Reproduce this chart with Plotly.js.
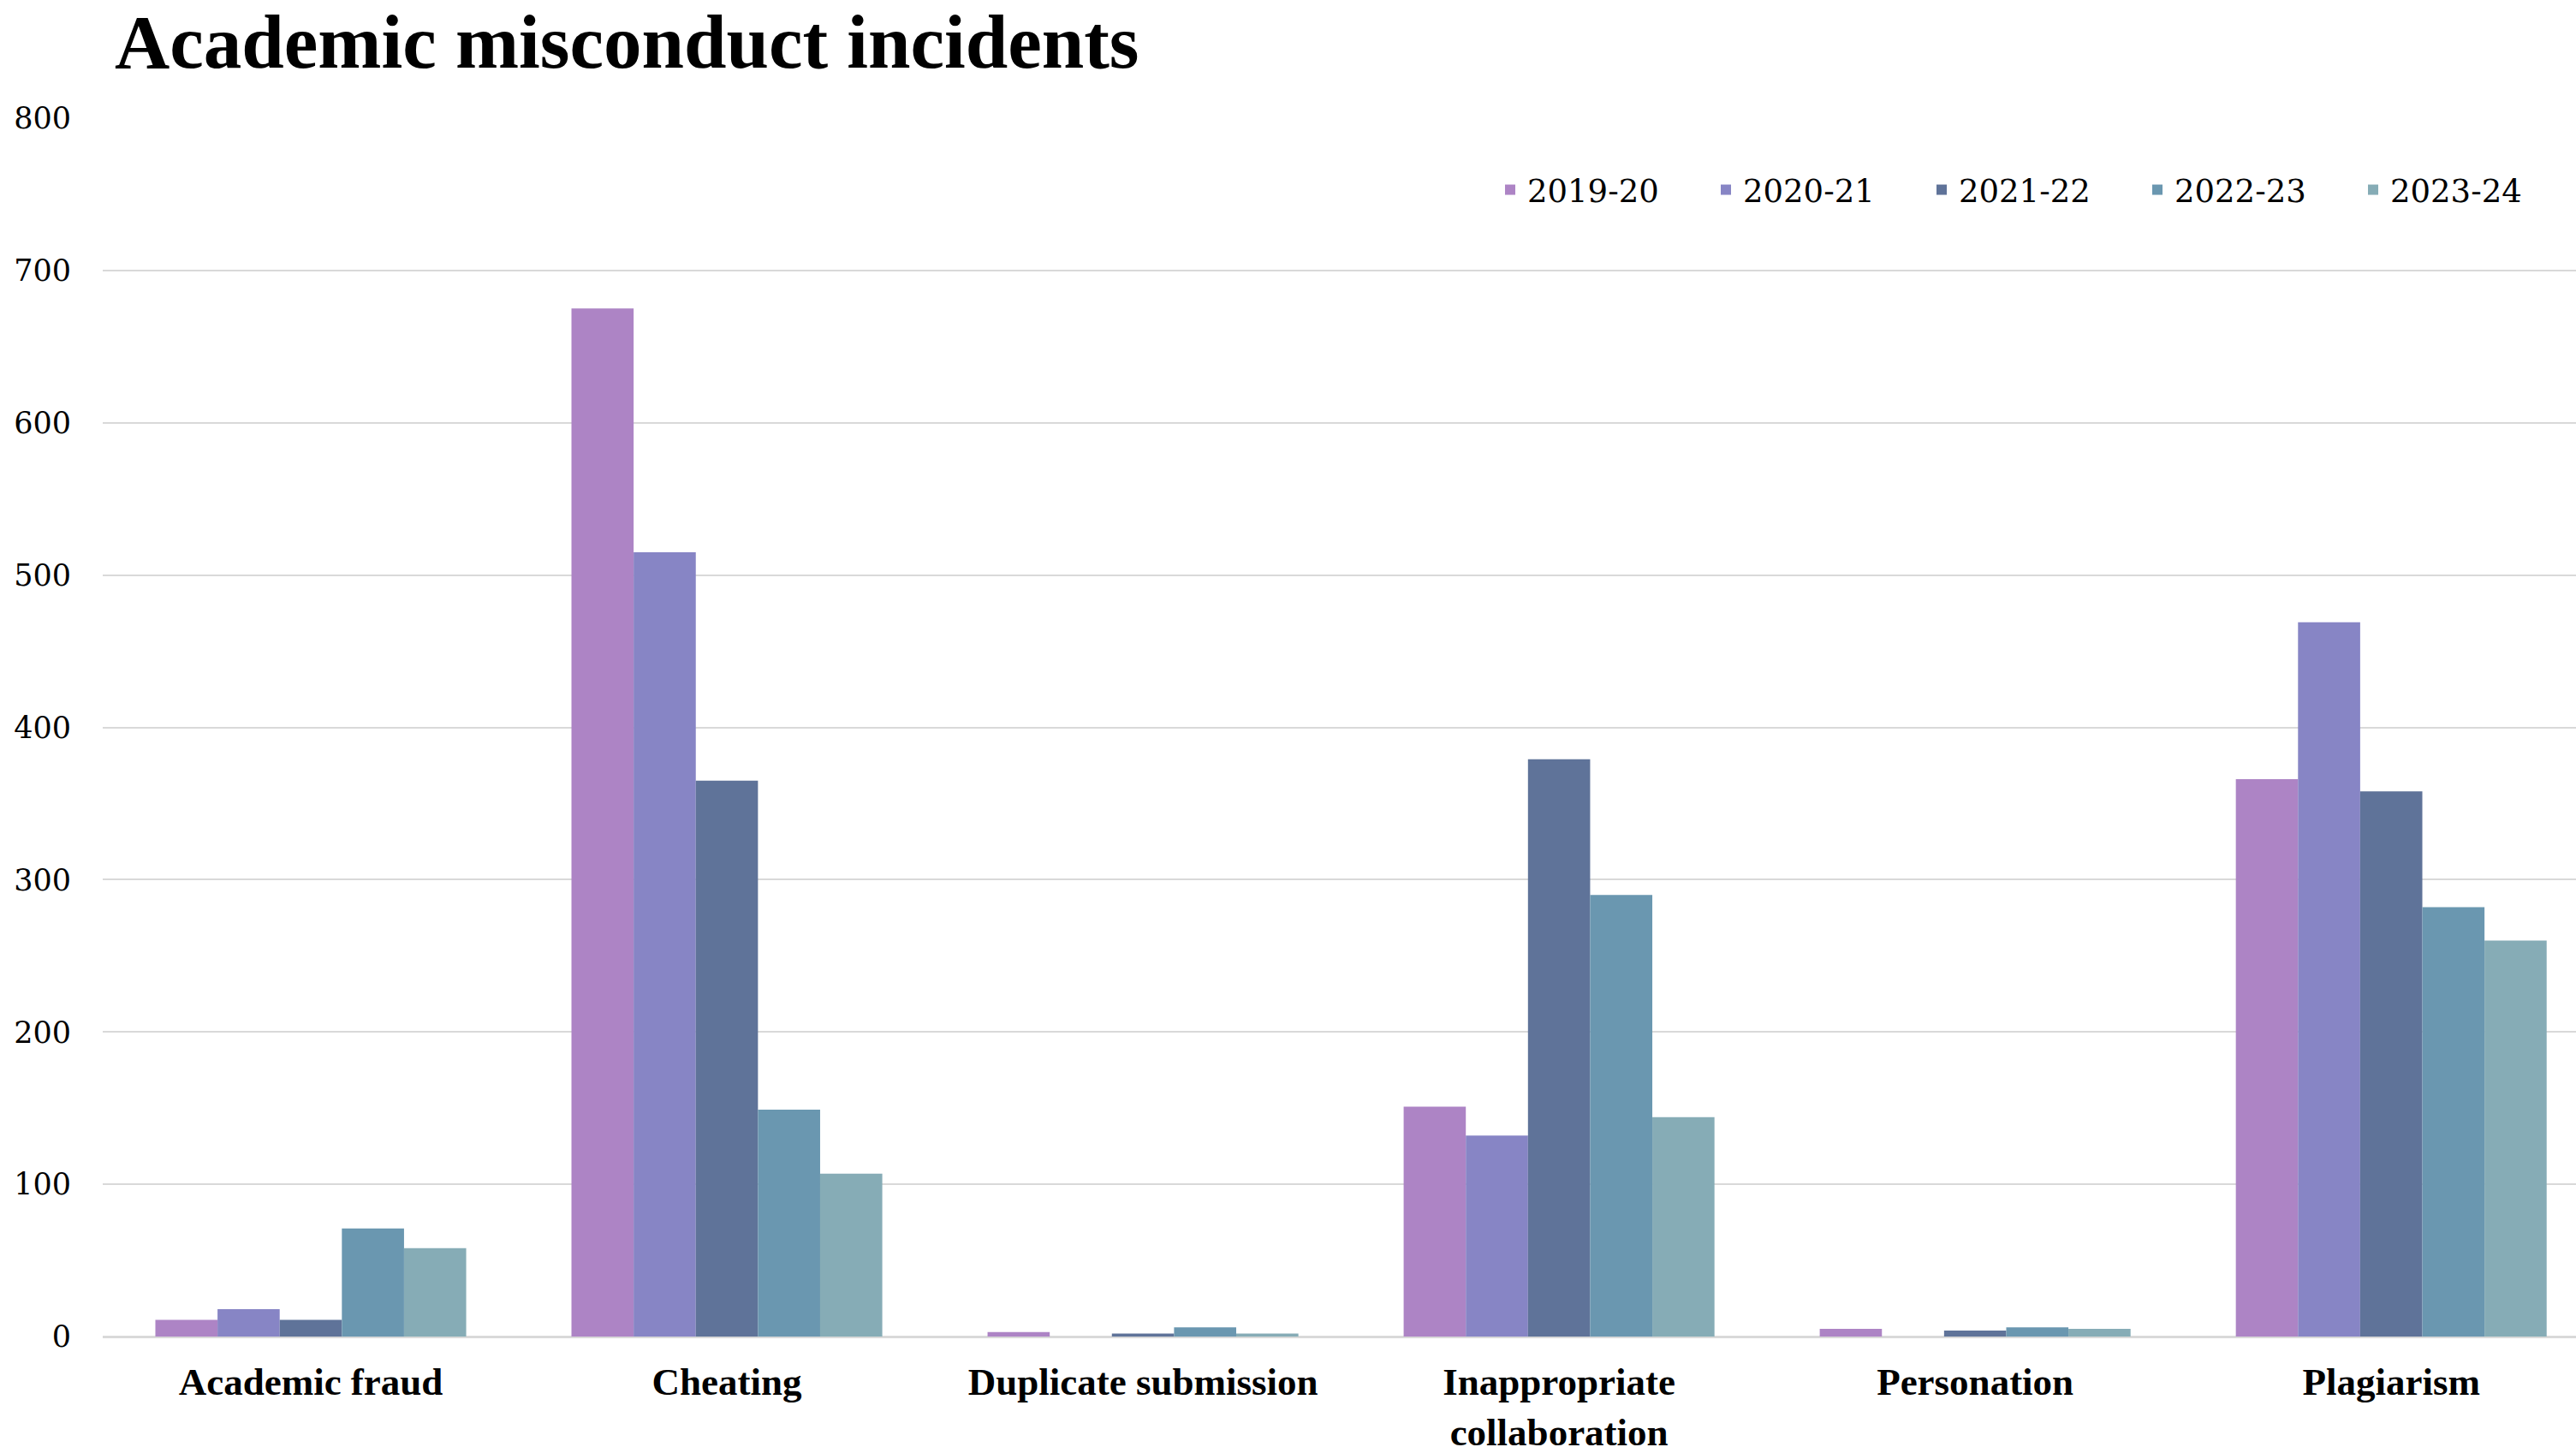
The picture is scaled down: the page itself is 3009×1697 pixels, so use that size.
<!DOCTYPE html>
<html>
<head>
<meta charset="utf-8">
<script src="https://cdn.plot.ly/plotly-3.0.1.min.js"></script>
<style>html,body{margin:0;padding:0;background:#fff;}#chart{width:3009px;height:1697px;}</style>
</head>
<body>
<div id="chart"></div>
<script>
const categories = ['Academic fraud', 'Cheating', 'Duplicate submission', 'Inappropriate<br>collaboration', 'Personation', 'Plagiarism'];
const seriesNames = ['2019-20', '2020-21', '2021-22', '2022-23', '2023-24'];
const v2019_20 = [11, 675, 3, 151, 5, 366];
const v2020_21 = [18, 515, 0, 132, 0, 469];
const v2021_22 = [11, 365, 2, 379, 4, 358];
const v2022_23 = [71, 149, 6, 290, 6, 282];
const v2023_24 = [58, 107, 2, 144, 5, 260];
const colors = ['#AD84C5', '#8785C5', '#5F7399', '#6A97B0', '#86ACB6'];
const yTicks = [0, 100, 200, 300, 400, 500, 600, 700, 800];

const allValues = [v2019_20, v2020_21, v2021_22, v2022_23, v2023_24];
const traces = allValues.map((vals, i) => ({
  type: 'bar',
  name: seriesNames[i],
  x: categories,
  y: vals,
  marker: {color: colors[i], line: {width: 0}},
  hoverinfo: 'x+y+name'
}));

const layout = {
  width: 3009,
  height: 1697,
  paper_bgcolor: '#ffffff',
  plot_bgcolor: '#ffffff',
  margin: {l: 120, r: 0, t: 138, b: 136, pad: 0, autoexpand: false},
  barmode: 'group',
  bargap: 0.253,
  bargroupgap: 0,
  title: {
    text: '<b>Academic misconduct incidents</b>',
    font: {family: 'Liberation Serif', size: 89, color: '#000000'},
    x: 134 / 3009,
    xanchor: 'left',
    xref: 'container',
    y: 1 - 48 / 1697,
    yanchor: 'middle',
    yref: 'container'
  },
  xaxis: {
    type: 'category',
    range: [-0.5, 5.444],
    showgrid: false,
    showline: false,
    zeroline: false,
    ticks: '',
    ticklabelstandoff: 22,
    tickfont: {family: 'Liberation Serif', size: 45, color: '#000000', weight: 'bold'},
    automargin: false,
    fixedrange: true
  },
  yaxis: {
    range: [0, 800],
    tickvals: yTicks,
    ticktext: yTicks.map(String),
    showgrid: true,
    gridcolor: '#d9d9d9',
    gridwidth: 2,
    zeroline: true,
    zerolinecolor: '#d9d9d9',
    zerolinewidth: 3,
    showline: false,
    ticks: '',
    ticklabelstandoff: 36,
    tickfont: {family: 'DejaVu Serif', size: 35, color: '#000000'},
    automargin: false,
    fixedrange: true
  },
  showlegend: true,
  legend: {
    orientation: 'h',
    x: (1744 - 120) / 2889,
    xanchor: 'left',
    y: 1 - (222 - 138) / 1423,
    yanchor: 'middle',
    font: {family: 'DejaVu Serif', size: 37, color: '#000000'},
    entrywidth: 207,
    entrywidthmode: 'pixels',
    bgcolor: 'rgba(0,0,0,0)',
    traceorder: 'normal'
  }
};

Plotly.newPlot('chart', traces, layout, {displayModeBar: false, staticPlot: true});
</script>
</body>
</html>
